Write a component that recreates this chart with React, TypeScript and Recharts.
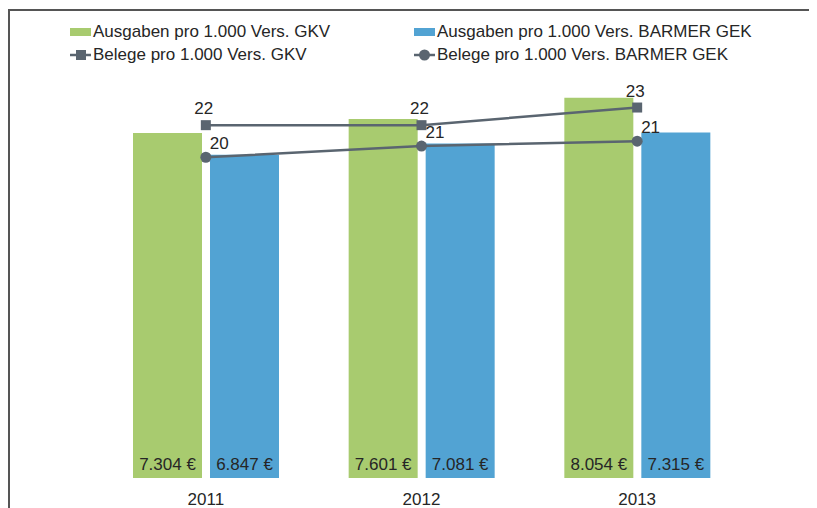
import React from 'react';
import { ComposedChart, Bar, Line, XAxis, YAxis, Legend, LabelList } from 'recharts';

const years = ['2011', '2012', '2013'];
const ausgabenGkv = [7304, 7601, 8054];
const ausgabenBarmer = [6847, 7081, 7315];
const belegeGkv = [22.0, 22.0, 23.1];
const belegeBarmer = [20.0, 20.7, 21.0];

const GREEN = '#A8CB6F';
const BLUE = '#52A3D3';
const LINE = '#5A6570';
const TEXT = '#262626';
const FONT = '"Liberation Sans", Arial, sans-serif';

const data = years.map((year, i) => ({
  year,
  ausgabenGkv: ausgabenGkv[i],
  ausgabenBarmer: ausgabenBarmer[i],
  belegeGkv: belegeGkv[i],
  belegeBarmer: belegeBarmer[i],
}));

const euro = (v: number) => v.toLocaleString('de-DE') + ' €';

const BarValue = (props: any) => {
  const { x, y, width, height, value } = props;
  return (
    <text x={x + width / 2} y={y + height - 8} textAnchor="middle" fill={TEXT} fontSize={17} fontFamily={FONT}>
      {euro(value)}
    </text>
  );
};

const SquareLabel = (props: any) => {
  const { x, y, value } = props;
  return (
    <text x={x - 2} y={y - 11} textAnchor="middle" fill={TEXT} fontSize={17} fontFamily={FONT}>
      {Math.round(value)}
    </text>
  );
};

const CircleLabel = (props: any) => {
  const { x, y, value } = props;
  return (
    <text x={x + 4} y={y - 8} textAnchor="start" fill={TEXT} fontSize={17} fontFamily={FONT}>
      {Math.round(value)}
    </text>
  );
};

const SquareDot = (props: any) => {
  const { cx, cy } = props;
  return <rect x={cx - 5} y={cy - 5} width={10} height={10} fill={LINE} />;
};

const CircleDot = (props: any) => {
  const { cx, cy } = props;
  return <circle cx={cx} cy={cy} r={5.5} fill={LINE} />;
};

const legendItems = [
  { label: 'Ausgaben pro 1.000 Vers. GKV', kind: 'bar', color: GREEN, left: 62, top: 0 },
  { label: 'Ausgaben pro 1.000 Vers. BARMER GEK', kind: 'bar', color: BLUE, left: 406, top: 0 },
  { label: 'Belege pro 1.000 Vers. GKV', kind: 'square', color: LINE, left: 62, top: 23 },
  { label: 'Belege pro 1.000 Vers. BARMER GEK', kind: 'circle', color: LINE, left: 406, top: 23 },
];

const LegendContent = () => (
  <div style={{ position: 'relative', height: 46, fontFamily: FONT, fontSize: 17, color: TEXT }}>
    {legendItems.map((it) => (
      <div key={it.label} style={{ position: 'absolute', left: it.left, top: it.top, display: 'flex', alignItems: 'center', whiteSpace: 'nowrap', lineHeight: '20px' }}>
        <svg width={21} height={20} style={{ marginRight: 2 }}>
          {it.kind === 'bar' && <rect x={0} y={6} width={21} height={8} fill={it.color} />}
          {it.kind !== 'bar' && <line x1={0} y1={10} x2={21} y2={10} stroke={it.color} strokeWidth={2.5} />}
          {it.kind === 'square' && <rect x={6} y={5} width={10} height={10} fill={it.color} />}
          {it.kind === 'circle' && <circle cx={10.5} cy={10} r={5.5} fill={it.color} />}
        </svg>
        <span>{it.label}</span>
      </div>
    ))}
  </div>
);

export default function App() {
  return (
    <div style={{ position: 'relative', width: 809, height: 500 }}>
      <div style={{ position: 'absolute', left: 0, top: 1, width: 809, height: 0, borderTop: '2px solid #555' }} />
      <div style={{ position: 'absolute', left: 0, top: 1, width: 0, height: 499, borderLeft: '2px solid #555' }} />
      <ComposedChart
        width={809}
        height={500}
        data={data}
        margin={{ top: 45, right: 72, bottom: 0, left: 90 }}
        barGap={8}
      >
        <XAxis
          dataKey="year"
          axisLine={false}
          tickLine={false}
          height={30}
          tickMargin={9}
          tick={{ fill: TEXT, fontSize: 17, fontFamily: FONT }}
        />
        <YAxis yAxisId="bars" hide domain={[0, 9000]} />
        <YAxis yAxisId="lines" hide domain={[0, 26.5]} orientation="right" />
        <Legend
          layout="horizontal"
          verticalAlign="middle"
          align="center"
          wrapperStyle={{ top: 14, left: 0, width: 809 }}
          content={<LegendContent />}
        />
        <Bar yAxisId="bars" dataKey="ausgabenGkv" fill={GREEN} barSize={69} isAnimationActive={false}>
          <LabelList dataKey="ausgabenGkv" content={<BarValue />} />
        </Bar>
        <Bar yAxisId="bars" dataKey="ausgabenBarmer" fill={BLUE} barSize={69} isAnimationActive={false}>
          <LabelList dataKey="ausgabenBarmer" content={<BarValue />} />
        </Bar>
        <Line
          yAxisId="lines"
          dataKey="belegeGkv"
          stroke={LINE}
          strokeWidth={2.5}
          dot={<SquareDot />}
          activeDot={false}
          isAnimationActive={false}
        >
          <LabelList dataKey="belegeGkv" content={<SquareLabel />} />
        </Line>
        <Line
          yAxisId="lines"
          dataKey="belegeBarmer"
          stroke={LINE}
          strokeWidth={2.5}
          dot={<CircleDot />}
          activeDot={false}
          isAnimationActive={false}
        >
          <LabelList dataKey="belegeBarmer" content={<CircleLabel />} />
        </Line>
      </ComposedChart>
    </div>
  );
}
